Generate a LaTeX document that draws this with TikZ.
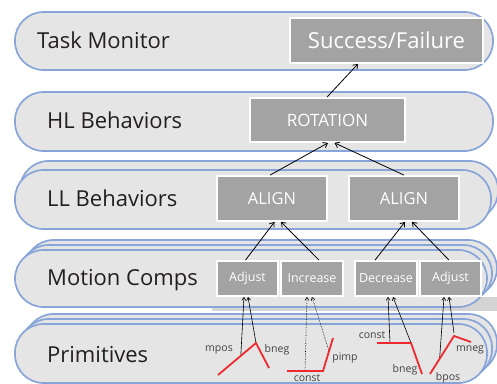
\documentclass[tikz,border=0pt]{standalone}
\usepackage{fontspec}
\setmainfont{Open Sans}
\usetikzlibrary{arrows.meta,calc}
\definecolor{layerfill}{HTML}{E5E5E5}
\definecolor{layerline}{HTML}{88A5D9}
\definecolor{boxfill}{HTML}{A3A3A3}
\definecolor{redl}{HTML}{EE2A2F}
\definecolor{txt}{HTML}{231F20}
\definecolor{shadowc}{HTML}{D4D4D4}
\begin{document}
\begin{tikzpicture}[x=1pt,y=-1pt,
 layer/.style={draw=layerline, fill=layerfill, line width=1.7pt, rounded corners=28.5pt},
 box/.style={draw=white, fill=boxfill, line width=1.8pt, text=white, inner sep=0pt},
 lbl/.style={anchor=west, text=txt, font=\fontsize{22}{24}\selectfont, inner sep=0pt},
 prim/.style={text=txt!85, font=\fontsize{10.5}{12}\selectfont, inner sep=0pt},
 conn/.style={line width=0.8pt, -{Straight Barb[length=4pt,width=6pt]}},
 sconn/.style={line width=0.6pt, -{Straight Barb[length=3pt,width=4pt]}},
 dconn/.style={sconn, densely dotted},
 redline/.style={draw=redl, line width=1.8pt}]
\useasboundingbox (0,0) rectangle (497,383);
\clip (0,0) rectangle (497,383);
% layers
\path[layer] (15,12) rectangle (493,70);
\path[layer] (15,92) rectangle (493,151);
\path[layer] (20,161) rectangle (498,220);
\path[layer] (15,170) rectangle (491,229);
\path[layer] (25,240) rectangle (497,297);
\path[layer] (20,245) rectangle (492,302);
\fill[shadowc] (212,297) rectangle (497,311);
\path[layer] (15,250) rectangle (487,307);
\path[layer] (25,314) rectangle (497,373);
\path[layer] (20,319) rectangle (492,378);
\path[layer] (15,324) rectangle (487,383);
% layer labels
\node[lbl] (tm) at (37,40) {Task Monitor};
\node[lbl] (hl) at (47,120) {HL Behaviors};
\node[lbl] (ll) at (47,198) {LL Behaviors};
\node[lbl] (mc) at (47,280) {Motion Comps};
\node[lbl] (pr) at (47,355) {Primitives};
% boxes
\node[box, minimum width=193pt, minimum height=45pt, font=\fontsize{22}{24}\selectfont] (sf) at (386.5,40.5) {Success/Failure};
\node[box, minimum width=155pt, minimum height=44pt, font=\fontsize{17}{19}\selectfont] (rot) at (327.5,120) {ROTATION};
\node[box, minimum width=110pt, minimum height=45pt, font=\fontsize{16.5}{18}\selectfont] (al1) at (272,198.5) {ALIGN};
\node[box, minimum width=110pt, minimum height=45pt, font=\fontsize{16.5}{18}\selectfont] (al2) at (404,198.5) {ALIGN};
\node[box, minimum width=61pt, minimum height=35pt, font=\fontsize{12.5}{14}\selectfont] (adj1) at (247.5,278.5) {Adjust};
\node[box, minimum width=62pt, minimum height=35pt, font=\fontsize{12.5}{14}\selectfont] (inc) at (312,278.5) {Increase};
\node[box, minimum width=62pt, minimum height=35pt, font=\fontsize{12.5}{14}\selectfont] (dec) at (386,278.5) {Decrease};
\node[box, minimum width=61pt, minimum height=35pt, font=\fontsize{12.5}{14}\selectfont] (adj2) at (450.5,278.5) {Adjust};
% upper connectors
\draw[conn] ([xshift=-0.5pt]rot.north) -- ([xshift=-28.5pt]sf.south);
\draw[conn] ([xshift=-2pt]al1.north) -- ([xshift=0.5pt]rot.south);
\draw[conn] (al2.north) -- ([xshift=7pt]rot.south);
\draw[conn] ([xshift=-2pt]adj1.north) -- ([xshift=2.5pt]al1.south);
\draw[conn] ([xshift=7pt]inc.north) -- ([xshift=9pt]al1.south);
\draw[conn] ([xshift=-11pt]dec.north) -- ([xshift=1pt]al2.south);
\draw[conn] ([xshift=-1.5pt]adj2.north) -- ([xshift=8pt]al2.south);
% primitive coordinates
\coordinate (a1) at (218,375); \coordinate (a2) at (256,343); \coordinate (a3) at (269,368);
\coordinate (a4) at ($(a1)!0.6!(a2)$);
\coordinate (b1) at (287,371); \coordinate (b2) at (323,371); \coordinate (b3) at (333,338);
\coordinate (b4) at (305,371); \coordinate (b5) at ($(b2)!0.6!(b3)$);
\coordinate (c1) at (377,343); \coordinate (c2) at (411,343); \coordinate (c3) at (422,374);
\coordinate (c4) at (390,343);
\coordinate (d1) at (430,374); \coordinate (d2) at (454,336); \coordinate (d3) at (471,342);
\coordinate (d4) at ($(d1)!0.4!(d2)$);
% primitive connectors
\draw[sconn] (a4) -- ([xshift=-3.5pt]adj1.south);
\draw[sconn] (a2) -- ([xshift=0.5pt]adj1.south);
\draw[dconn] (b4) -- ([xshift=-5pt]inc.south);
\draw[dconn] (b5) -- (inc.south);
\draw[sconn] (c4) -- ([xshift=2pt]dec.south);
\draw[sconn] (c2) -- ([xshift=7pt]dec.south);
\draw[sconn] (d4) -- ([xshift=-6.5pt]adj2.south);
\draw[sconn] ([yshift=3pt]d2) -- ([xshift=-1.5pt]adj2.south);
% red primitive shapes
\draw[redline] (a1) -- (a2) -- (a3);
\draw[redline] (b1) -- (b2) -- (b3);
\draw[redline] (c1) -- (c2) -- (c3);
\draw[redline] (d1) -- (d2) -- (d3);
% primitive labels
\node[prim] (mpos) at (219,350) {mpos};
\node[prim] (bnegA) at (277,350) {bneg};
\node[prim] (constA) at (307,378) {const};
\node[prim] (pimp) at (345,358) {pimp};
\node[prim] (constB) at (372,335) {const};
\node[prim] (bnegB) at (405,370) {bneg};
\node[prim] (mneg) at (470,350) {mneg};
\node[prim] (bpos) at (448,378) {bpos};
\end{tikzpicture}
\end{document}
